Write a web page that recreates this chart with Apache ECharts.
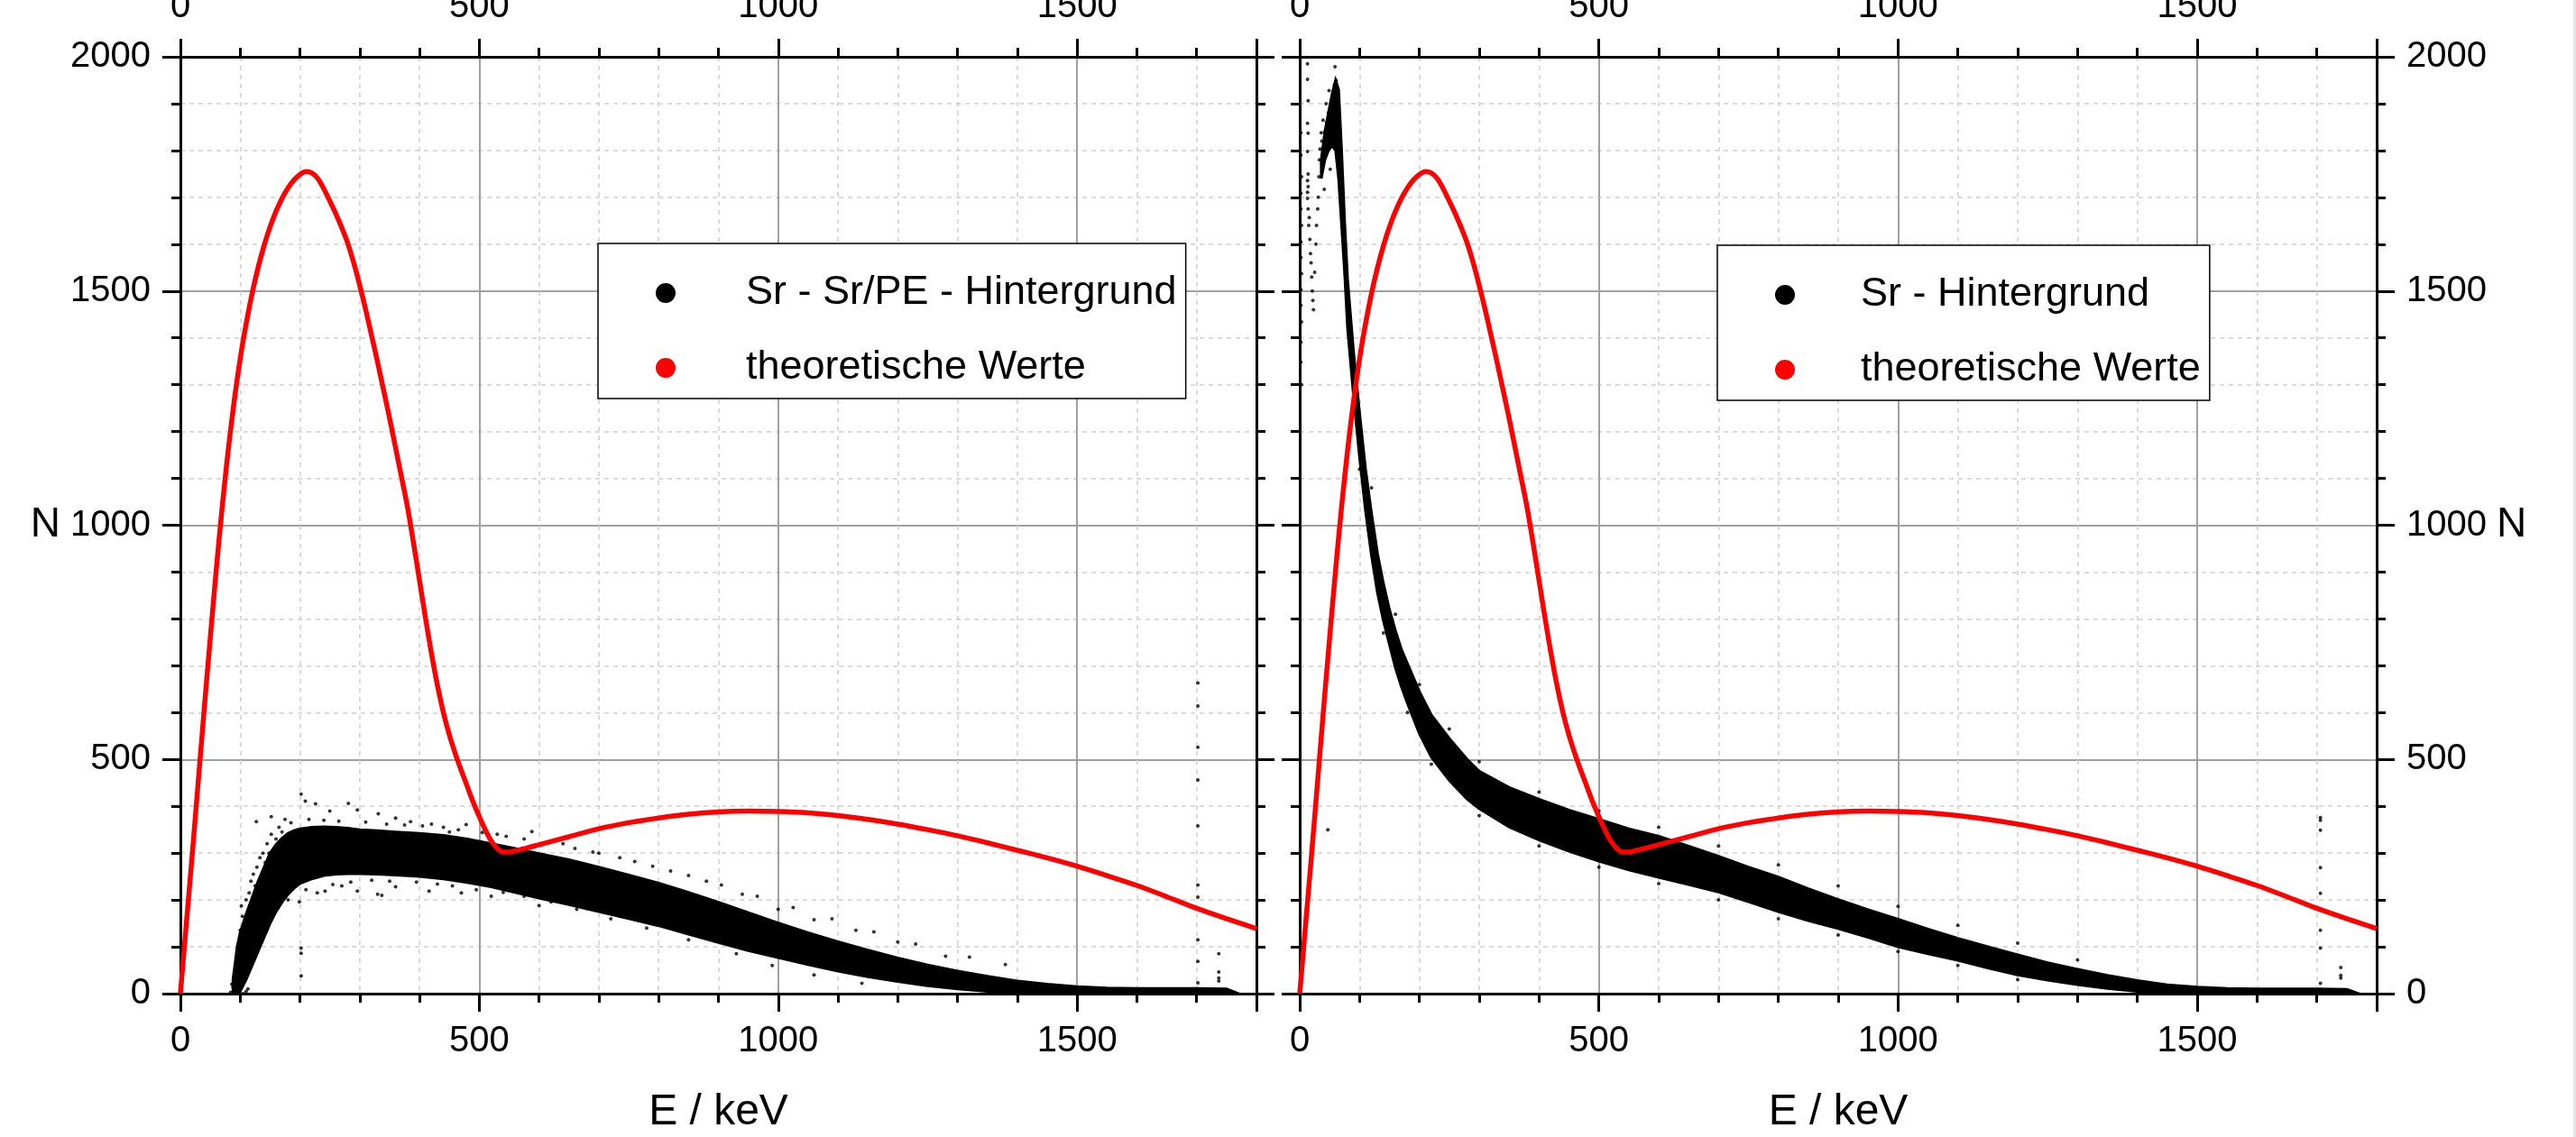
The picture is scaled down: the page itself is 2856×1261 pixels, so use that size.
<!DOCTYPE html>
<html>
<head>
<meta charset="utf-8">
<script src="https://cdn.jsdelivr.net/npm/echarts@6/dist/echarts.min.js"></script>
<style>
html,body{margin:0;padding:0;background:#fff;}
#c{width:2856px;height:1261px;}
</style>
</head>
<body>
<div id="c"></div>
<script>
// ---------- data ----------
const xTicks = [0, 500, 1000, 1500];
const yTicks = [0, 500, 1000, 1500, 2000];

// theoretical curve (same in both panels)
const theoryE = [0,10,20,30,40,50,60,70,80,90,100,110,120,130,140,150,160,170,180,190,200,210,220,230,240,250,260,270,280,290,300,310,320,330,340,350,360,370,380,390,400,410,420,430,440,450,460,470,480,490,500,510,520,530,540,550,560,580,600,650,700,750,800,850,900,950,1000,1050,1100,1150,1200,1250,1300,1350,1400,1450,1500,1550,1600,1650,1700,1750,1800];
const theoryN = [0,150,300,455,610,760,905,1040,1160,1265,1355,1430,1495,1550,1597,1637,1670,1698,1720,1737,1749,1755,1752,1740,1718,1692,1665,1635,1602,1560,1512,1460,1404,1347,1288,1228,1165,1102,1038,962,882,802,726,658,600,552,512,476,442,408,378,350,326,310,302,302,305,311,318,335,352,365,375,383,388,390,389,386,380,372,362,350,337,322,306,290,272,252,231,207,182,160,139];

// left panel: dense band of measured points (Sr - Sr/PE - Hintergrund)
const leftBandE  = [88,95,100,110,120,130,140,150,160,170,180,190,200,220,240,260,280,300,330,360,400,440,480,520,560,600,650,700,750,800,850,900,950,1000,1050,1100,1150,1200,1250,1300,1350,1400,1450,1500,1550,1600,1650,1700,1750,1770];
const leftBandHi = [30,100,130,170,205,240,270,300,318,332,342,348,352,355,356,355,353,350,348,345,342,338,330,320,310,299,286,270,253,236,216,195,173,151,130,111,93,76,61,48,37,27,20,15,12,11,11,11,10,0];
const leftBandLo = [0,0,5,30,60,90,120,150,175,195,212,225,235,245,252,255,256,256,255,253,250,245,237,228,216,204,190,175,160,145,127,109,92,77,62,48,36,26,17,10,5,1,0,0,0,0,0,0,0,0];
// left panel: individual (sparse / outlying) measured points
const leftPtsE = [88,90,92,95,97,98,100,102,104,105,108,110,112,115,118,120,122,125,128,130,133,135,138,142,145,148,152,127,152,160,165,170,175,105,110,113,96,99,84,86,93,
  202,202,202,
  202,209,226,281,296,331,385,450,478,588,250,360,420,530,640,700,760,820,880,940,1000,1060,1130,1200,1280,
  185,215,240,265,310,345,375,405,440,465,505,545,575,615,660,690,735,790,850,905,965,1025,1090,1160,1230,1320,1380,
  199,229,242,296,330,337,416,600,663,270,360,470,520,720,780,850,930,990,1060,1140,
  180,210,255,285,320,350,395,430,455,495,540,575,620,680,745,805,870,960,1030,1110,1180,1260,
  1702,1702,1702,1702,1702,1702,1702,1702,1702,1702,1737,1737,1737,1737];
const leftPtsN = [15,40,5,60,100,20,135,187,165,80,150,200,120,215,240,180,255,230,270,215,290,250,300,280,320,300,340,367,378,330,355,345,372,0,5,10,10,2,3,20,35,
  97,86,38,
  426,411,405,406,392,384,367,345,361,346,390,375,362,340,320,300,282,262,240,212,180,158,135,110,80,
  365,372,370,368,366,362,360,358,355,350,344,336,330,322,310,302,290,272,252,232,208,184,160,132,106,78,62,
  196,215,219,219,212,210,219,188,180,230,228,215,208,160,140,115,85,60,40,22,
  200,222,233,238,242,240,238,234,230,222,216,208,196,182,165,148,128,100,78,54,35,18,
  663,614,526,456,358,232,206,115,69,23,85,46,33,27];

// right panel: dense band of measured points (Sr - Hintergrund)
const rightBandE  = [36,42,48,54,60,65,70,75,80,90,100,110,120,130,140,150,160,170,180,200,220,250,280,300,350,400,450,500,550,600,650,700,750,800,850,900,950,1000,1050,1100,1150,1200,1250,1300,1350,1400,1450,1500,1550,1600,1650,1700,1750,1770];
const rightBandHi = [1780,1840,1880,1920,1950,1930,1800,1650,1525,1370,1240,1120,1025,940,875,820,775,735,705,645,595,545,500,475,440,415,392,372,352,336,315,293,270,249,224,201,179,159,138,118,100,83,66,52,39,28,19,14,11,10,10,10,9,0];
const rightBandLo = [1740,1780,1800,1810,1800,1740,1640,1540,1420,1275,1145,1030,935,855,795,745,695,655,620,555,505,455,415,395,356,328,304,283,264,248,233,217,196,175,156,139,120,100,85,71,55,40,29,19,11,5,1,0,0,0,0,0,0,0];
// right panel: individual (sparse / outlying) measured points
const rightPtsE = [13,13,14,13,14,13,14,13,14,13,13,14,15,16,17,18,19,20,21,22,23,25,27,28,30,31,32,33,34,36,37,38,39,40,41,42,44,45,46,47,48,49,50,51,52,53,54,55,56,57,58,59,60,61,62,63,64,65,66,67,68,69,70,71,72,73,74,75,76,78,80,82,47,
  2,2,3,2,2,3,2,2,3,2,2,3,2,2,3,
  120,160,200,250,300,400,500,600,700,800,900,1000,1100,1200,1300,
  100,140,180,220,300,400,500,600,700,800,900,1000,1100,1200,
  1706,1706,1706,1706,1706,1706,1706,1706,1740,1740,1740];
const rightPtsN = [1985,1952,1906,1858,1837,1798,1750,1736,1723,1711,1698,1675,1640,1657,1610,1580,1560,1530,1500,1480,1460,1540,1600,1640,1675,1700,1744,1780,1803,1838,1820,1760,1865,1795,1717,1840,1900,1860,1838,1800,1880,1928,1820,1760,1850,1890,1865,1830,1906,1870,1940,1979,1900,1949,1880,1800,1846,1810,1778,1760,1720,1735,1690,1666,1640,1620,1606,1570,1537,1500,1470,1451,350,
  1838,1790,1744,1709,1675,1640,1605,1571,1537,1503,1469,1434,1391,1348,1300,
  1080,810,660,565,495,430,390,355,315,275,230,186,146,108,72,
  1120,770,600,490,380,315,270,235,200,160,125,90,60,30,
  376,370,349,269,214,135,97,22,56,39,33];

const leftName = 'Sr - Sr/PE - Hintergrund';
const rightName = 'Sr - Hintergrund';
const theoryName = 'theoretische Werte';

// ---------- chart ----------
const FONT = '"Liberation Sans", Arial, sans-serif';
const chart = echarts.init(document.getElementById('c'), null, {renderer: 'canvas'});

function pairs(xs, ys) { return xs.map((x, i) => [x, ys[i]]); }

function xAxis(grid, pos) {
  const main = pos === 'bottom';
  return {
    type: 'value', gridIndex: grid, position: pos, min: 0, max: 1800, interval: 500,
    axisLine: {show: true, onZero: false, lineStyle: {color: '#000', width: 3}},
    axisTick: {show: true, length: 20, lineStyle: {color: '#000', width: 3}},
    minorTick: {show: true, splitNumber: 5, length: 10, lineStyle: {color: '#000', width: 3}},
    axisLabel: {show: true, margin: main ? 33 : 35, fontSize: 40, color: '#000', fontFamily: FONT, showMaxLabel: false,
      formatter: v => (xTicks.indexOf(v) >= 0 ? String(v) : '')},
    splitLine: {show: main, lineStyle: {color: '#a0a0a0', width: 2}},
    minorSplitLine: {show: main, lineStyle: {color: '#d0d0d0', width: 1.5, type: [5, 5]}},
    name: main ? 'E / keV' : '', nameLocation: 'middle', nameGap: 108,
    nameTextStyle: {fontSize: 48, color: '#000', fontFamily: FONT}
  };
}
function yAxis(grid, pos, labels, grids) {
  return {
    type: 'value', gridIndex: grid, position: pos, min: 0, max: 2000, interval: 500,
    axisLine: {show: true, onZero: false, lineStyle: {color: '#000', width: 3}},
    axisTick: {show: true, length: 20, lineStyle: {color: '#000', width: 3}},
    minorTick: {show: true, splitNumber: 5, length: 10, lineStyle: {color: '#000', width: 3}},
    axisLabel: {show: labels, margin: 33, fontSize: 40, color: '#000', fontFamily: FONT,
      formatter: v => (yTicks.indexOf(v) >= 0 ? String(v) : '')},
    splitLine: {show: grids, lineStyle: {color: '#a0a0a0', width: 2}},
    minorSplitLine: {show: grids, lineStyle: {color: '#d0d0d0', width: 1.5, type: [5, 5]}},
    name: labels ? 'N' : '', nameLocation: 'middle', nameRotate: 0, nameGap: 133,
    nameTextStyle: {fontSize: 46, color: '#000', fontFamily: FONT}
  };
}

function band(name, xi, yi, E, lo, hi) {
  return {
    type: 'custom', name: name, xAxisIndex: xi, yAxisIndex: yi, clip: true, silent: true, z: 3,
    data: [[E[0], lo[0]]],
    renderItem: function (params, api) {
      const pts = [];
      for (let i = 0; i < E.length; i++) pts.push(api.coord([E[i], hi[i]]));
      for (let i = E.length - 1; i >= 0; i--) pts.push(api.coord([E[i], lo[i]]));
      return {type: 'polygon', shape: {points: pts}, style: {fill: '#000', stroke: '#000', lineWidth: 3}};
    }
  };
}

function legend(left, top, first, textPad) {
  return {
    orient: 'vertical', left: left, top: top,
    data: [
      {name: first, icon: 'circle', itemStyle: {color: '#000'}},
      {name: theoryName, icon: 'circle', itemStyle: {color: '#ff0000'}}
    ],
    itemWidth: 22, itemHeight: 22, itemGap: 33,
    padding: [30, 10, 9, 64],
    backgroundColor: '#fff', borderColor: '#000', borderWidth: 1.5, borderRadius: 0,
    selectedMode: false,
    textStyle: {fontSize: 45, color: '#000', fontFamily: FONT, lineHeight: 50, padding: [0, 0, 0, textPad]}
  };
}

const option = {
  backgroundColor: '#fff',
  animation: false,
  grid: [
    {left: 200, top: 63, width: 1193, height: 1039, outerBoundsMode: 'none'},
    {left: 1441, top: 63, width: 1194, height: 1039, outerBoundsMode: 'none'}
  ],
  xAxis: [xAxis(0, 'bottom'), xAxis(0, 'top'), xAxis(1, 'bottom'), xAxis(1, 'top')],
  yAxis: [yAxis(0, 'left', true, true), yAxis(0, 'right', false, false), yAxis(1, 'left', false, true), yAxis(1, 'right', true, false)],
  legend: [legend(663, 270, leftName, 73), legend(1904, 272, rightName, 68)],
  graphic: [{type: 'rect', right: 0, top: 0, shape: {width: 3, height: 1261}, style: {fill: '#e4e4e4'}}],
  series: [
    band(leftName, 0, 0, leftBandE, leftBandLo, leftBandHi),
    {type: 'scatter', name: leftName, xAxisIndex: 0, yAxisIndex: 0, symbol: 'circle', symbolSize: 4,
      itemStyle: {color: '#000'}, data: pairs(leftPtsE, leftPtsN), z: 3},
    {type: 'line', name: theoryName, xAxisIndex: 0, yAxisIndex: 0, showSymbol: false, symbol: 'none', smooth: 0.3,
      color: '#ff0000', lineStyle: {color: '#ff0000', width: 5.5}, data: pairs(theoryE, theoryN), z: 4},
    band(rightName, 2, 3, rightBandE, rightBandLo, rightBandHi),
    {type: 'scatter', name: rightName, xAxisIndex: 2, yAxisIndex: 3, symbol: 'circle', symbolSize: 4,
      itemStyle: {color: '#000'}, data: pairs(rightPtsE, rightPtsN), z: 3},
    {type: 'line', name: theoryName, xAxisIndex: 2, yAxisIndex: 3, showSymbol: false, symbol: 'none', smooth: 0.3,
      color: '#ff0000', lineStyle: {color: '#ff0000', width: 5.5}, data: pairs(theoryE, theoryN), z: 4}
  ]
};
chart.setOption(option);
</script>
</body>
</html>
